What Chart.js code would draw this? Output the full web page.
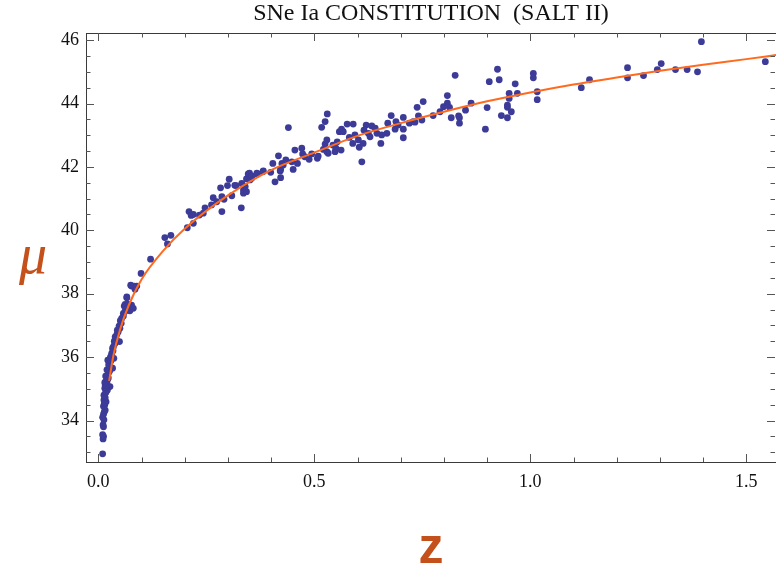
<!DOCTYPE html>
<html>
<head>
<meta charset="utf-8">
<script src="https://cdn.jsdelivr.net/npm/chart.js@4/dist/chart.umd.min.js"></script>
<style>
  body { margin: 0; background: #fff; }
</style>
</head>
<body>
<canvas id="hubbleChart" width="776" height="570"></canvas>
<script>
const title = 'SNe Ia CONSTITUTION  (SALT II)';
const xTitle = 'z';
const yTitle = 'μ';

// supernova redshifts and distance moduli
const snZ = [
  0.010, 0.011, 0.012, 0.010, 0.012, 0.011, 0.013, 0.010, 0.012, 0.014,
  0.016, 0.012, 0.015, 0.018, 0.013, 0.016, 0.013, 0.017, 0.021, 0.015,
  0.027, 0.016, 0.020, 0.019, 0.023, 0.021, 0.023, 0.026, 0.025, 0.033,
  0.027, 0.025, 0.029, 0.036, 0.031, 0.031, 0.034, 0.033, 0.035, 0.038,
  0.037, 0.049, 0.041, 0.039, 0.043, 0.046, 0.044, 0.050, 0.048, 0.053,
  0.051, 0.054, 0.058, 0.058, 0.062, 0.073, 0.081, 0.069, 0.060, 0.077,
  0.062, 0.069, 0.066, 0.066, 0.085, 0.077, 0.089, 0.075, 0.083, 0.099,
  0.121, 0.154, 0.168, 0.160, 0.206, 0.210, 0.215, 0.220, 0.220, 0.234,
  0.243, 0.247, 0.262, 0.266, 0.274, 0.286, 0.283, 0.286, 0.291, 0.299,
  0.303, 0.309, 0.316, 0.319, 0.331, 0.332, 0.336, 0.336, 0.340, 0.340,
  0.343, 0.343, 0.347, 0.350, 0.351, 0.355, 0.355, 0.367, 0.368, 0.381,
  0.382, 0.399, 0.404, 0.409, 0.417, 0.421, 0.422, 0.422, 0.425, 0.428,
  0.434, 0.440, 0.448, 0.451, 0.455, 0.461, 0.471, 0.473, 0.478, 0.488,
  0.494, 0.507, 0.509, 0.517, 0.521, 0.525, 0.525, 0.529, 0.529, 0.530,
  0.532, 0.543, 0.548, 0.550, 0.553, 0.558, 0.562, 0.563, 0.567, 0.576,
  0.581, 0.589, 0.590, 0.594, 0.602, 0.604, 0.610, 0.613, 0.615, 0.620,
  0.625, 0.629, 0.633, 0.641, 0.645, 0.654, 0.656, 0.668, 0.670, 0.678,
  0.687, 0.689, 0.694, 0.706, 0.706, 0.706, 0.720, 0.729, 0.733, 0.738,
  0.741, 0.749, 0.752, 0.775, 0.791, 0.799, 0.808, 0.808, 0.813, 0.817,
  0.826, 0.834, 0.836, 0.836, 0.850, 0.863, 0.896, 0.900, 0.905, 0.924,
  0.928, 0.933, 0.947, 0.947, 0.947, 0.951, 0.951, 0.956, 0.965, 0.970,
  1.007, 1.007, 1.016, 1.016, 1.118, 1.137, 1.225, 1.225, 1.262, 1.294,
  1.303, 1.336, 1.363, 1.387, 1.396, 1.544,
  0.014, 0.018, 0.015, 0.019, 0.017, 0.022, 0.020, 0.024, 0.022, 0.028
];
const snMu = [
  32.95, 33.42, 33.50, 33.55, 33.80, 33.86, 34.02, 34.10, 34.20, 34.28,
  34.33, 34.45, 34.50, 34.59, 34.65, 34.72, 34.80, 34.88, 34.96, 35.02,
  35.07, 35.12, 35.18, 35.28, 35.35, 35.42, 35.49, 35.55, 35.62, 35.65,
  35.72, 35.80, 35.88, 35.96, 36.05, 36.12, 36.20, 36.28, 36.33, 36.42,
  36.50, 36.49, 36.59, 36.64, 36.72, 36.80, 36.85, 36.91, 36.98, 37.07,
  37.15, 37.22, 37.30, 37.38, 37.45, 37.46, 37.54, 37.59, 37.61, 37.64,
  37.66, 37.67, 37.87, 37.90, 38.14, 38.24, 38.24, 38.27, 38.24, 38.64,
  39.09, 39.77, 39.84, 39.57, 40.08, 40.59, 40.47, 40.22, 40.50, 40.48,
  40.54, 40.71, 40.80, 41.03, 40.90, 40.59, 41.34, 41.06, 40.98, 41.41,
  41.61, 41.09, 41.42, 41.41, 40.71, 41.48, 41.27, 41.17, 41.38, 41.24,
  41.22, 41.62, 41.78, 41.80, 41.59, 41.64, 41.72, 41.80, 41.77, 41.85,
  41.87, 41.83, 42.11, 41.53, 42.35, 41.87, 41.66, 41.92, 42.11, 42.06,
  42.22, 43.24, 42.16, 41.92, 42.53, 42.11, 42.59, 42.41, 42.32, 42.24,
  42.41, 42.27, 42.34, 43.25, 42.55, 43.43, 42.72, 42.85, 42.48, 43.67,
  42.43, 42.69, 42.48, 42.59, 42.79, 43.11, 42.53, 43.19, 43.11, 43.35,
  42.93, 42.74, 43.35, 43.01, 42.85, 42.62, 42.16, 42.74, 43.16, 43.32,
  43.06, 42.95, 43.29, 43.22, 43.06, 42.74, 43.01, 43.06, 43.38, 43.62,
  43.19, 43.43, 43.32, 43.56, 43.19, 42.92, 43.38, 43.43, 43.41, 43.88,
  43.61, 43.48, 44.06, 43.62, 43.74, 43.90, 44.25, 44.01, 43.88, 43.55,
  44.89, 43.61, 43.55, 43.38, 43.79, 44.01, 43.19, 43.87, 44.69, 45.08,
  44.75, 43.62, 43.95, 43.88, 43.55, 44.32, 44.16, 43.74, 44.62, 44.32,
  44.95, 44.81, 44.37, 44.12, 44.50, 44.75, 45.13, 44.81, 44.88, 45.07,
  45.26, 45.07, 45.07, 45.00, 45.95, 45.32,
  34.55, 34.90, 35.20, 35.05, 35.40, 35.30, 35.60, 35.75, 35.90, 36.00
];

// fitted curve
const fitZ = [0.025, 0.035, 0.05, 0.07, 0.1, 0.15, 0.2, 0.3, 0.4, 0.5, 0.6, 0.7, 0.8, 0.9, 1.0, 1.1, 1.2, 1.3, 1.4, 1.5, 1.575];
const fitMu = [35.25, 36.05, 36.85, 37.62, 38.45, 39.35, 40.05, 41.1, 41.9, 42.45, 42.98, 43.38, 43.74, 44.07, 44.35, 44.6, 44.82, 45.03, 45.22, 45.4, 45.54];

const xTicks = [0, 0.5, 1.0, 1.5];
const yTicks = [34, 36, 38, 40, 42, 44, 46];

const labelColor = '#c4501c';
const frameColor = '#3a3a3a';

// Mathematica-style frame with inward ticks on all four sides
const framePlugin = {
  id: 'frame',
  afterDatasetsDraw(chart) {
    const ctx = chart.ctx;
    const a = chart.chartArea;
    const xs = chart.scales.x;
    const ys = chart.scales.y;
    ctx.save();
    ctx.strokeStyle = frameColor;
    ctx.lineWidth = 1;
    ctx.strokeRect(Math.round(a.left) + 0.5, Math.round(a.top) + 0.5,
      Math.round(a.right - a.left), Math.round(a.bottom - a.top));

    ctx.strokeStyle = '#555';
    ctx.beginPath();
    for (let i = 0; i <= 15; i++) {
      const v = i / 10;
      const len = i % 5 === 0 ? 8 : 4.5;
      const px = Math.round(xs.getPixelForValue(v)) + 0.5;
      ctx.moveTo(px, a.bottom); ctx.lineTo(px, a.bottom - len);
      ctx.moveTo(px, a.top); ctx.lineTo(px, a.top + len);
    }
    for (let i = 66; i <= 92; i++) {
      const v = i / 2;
      if (v < ys.min || v > ys.max) continue;
      const len = i % 4 === 0 ? 8 : 4.5;
      const py = Math.round(ys.getPixelForValue(v)) + 0.5;
      ctx.moveTo(a.left, py); ctx.lineTo(a.left + len, py);
      ctx.moveTo(a.right - 1, py); ctx.lineTo(a.right - 1 - len, py);
    }
    ctx.stroke();

    ctx.fillStyle = '#111';
    ctx.textAlign = 'center';
    ctx.textBaseline = 'middle';
    ctx.font = '24px "Liberation Serif", serif';
    ctx.fillText(title, (a.left + a.right) / 2, 14);

    ctx.fillStyle = labelColor;
    ctx.font = 'italic 56px "Liberation Serif", serif';
    ctx.fillText(yTitle, 33, 258);
    ctx.font = 'bold 50px "Liberation Sans", sans-serif';
    ctx.fillText(xTitle, (a.left + a.right) / 2, 549);
    ctx.restore();
  }
};

new Chart(document.getElementById('hubbleChart'), {
  type: 'scatter',
  data: {
    datasets: [
      {
        label: 'fit',
        type: 'line',
        data: fitZ.map((z, i) => ({ x: z, y: fitMu[i] })),
        borderColor: '#ff6a1e',
        borderWidth: 2,
        pointRadius: 0,
        showLine: true,
        fill: false,
        cubicInterpolationMode: 'monotone',
        order: 0
      },
      {
        label: 'SNe Ia',
        data: snZ.map((z, i) => ({ x: z, y: snMu[i] })),
        backgroundColor: '#3c3b98',
        borderWidth: 0,
        pointRadius: 3.4,
        order: 1
      }
    ]
  },
  options: {
    responsive: false,
    animation: false,
    layout: { autoPadding: false, padding: { top: 33, right: 0 } },
    plugins: {
      legend: { display: false },
      tooltip: { enabled: false },
      title: { display: false }
    },
    scales: {
      x: {
        type: 'linear',
        min: -0.0285,
        max: 1.5687,
        grid: { display: false, drawTicks: false },
        border: { display: false },
        afterBuildTicks: (scale) => { scale.ticks = xTicks.map(v => ({ value: v })); },
        afterFit: (scale) => { scale.height = 108; },
        ticks: {
          padding: 9,
          color: '#111',
          font: { family: '"Liberation Serif", serif', size: 18 },
          callback: (v) => v.toFixed(1)
        }
      },
      y: {
        min: 32.691,
        max: 46.224,
        grid: { display: false, drawTicks: false },
        border: { display: false },
        afterBuildTicks: (scale) => { scale.ticks = yTicks.map(v => ({ value: v })); },
        afterFit: (scale) => { scale.width = 86; },
        ticks: {
          padding: 7,
          color: '#111',
          font: { family: '"Liberation Serif", serif', size: 18 },
          callback: (v) => String(v)
        }
      }
    }
  },
  plugins: [framePlugin]
});
</script>
</body>
</html>
